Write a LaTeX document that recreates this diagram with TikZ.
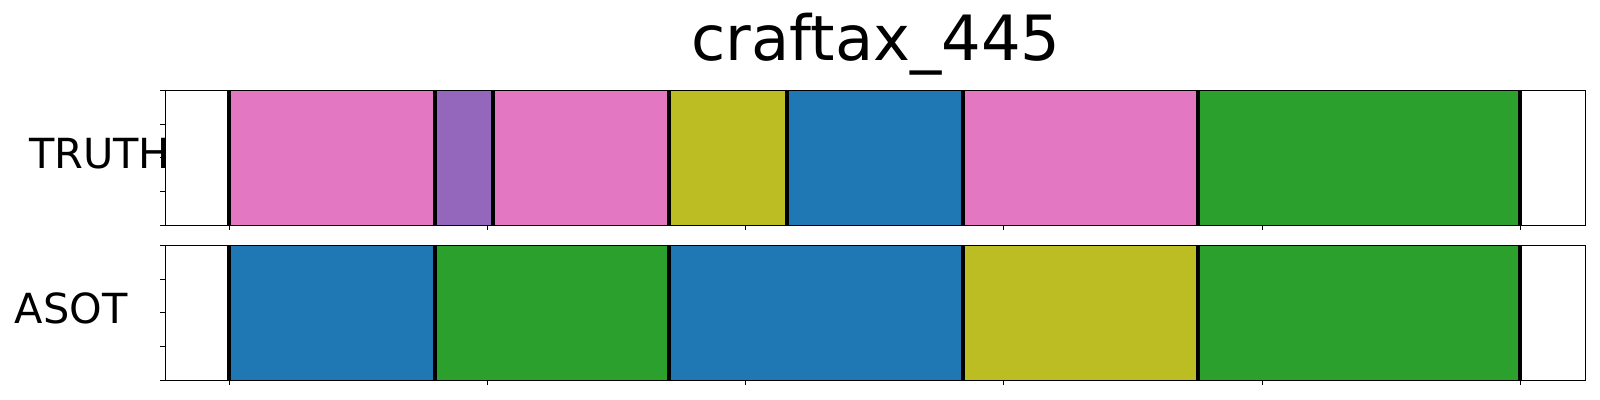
\documentclass[tikz,border=0pt]{standalone}
\usepackage{fontspec}
\setmainfont{DejaVu Sans}
\definecolor{tpink}{HTML}{E377C2}
\definecolor{tpurple}{HTML}{9467BD}
\definecolor{tolive}{HTML}{BCBD22}
\definecolor{tblue}{HTML}{1F77B4}
\definecolor{tgreen}{HTML}{2CA02C}
\tikzset{
  bound/.style={line width=3pt, black},
  frame/.style={line width=0.8pt, black},
  tick/.style={line width=0.8pt, black},
  rowlabel/.style={inner sep=0pt, anchor=base west, font=\fontsize{31.1}{37}\selectfont},
  titlelabel/.style={inner sep=0pt, anchor=base, font=\fontsize{46.8}{56}\selectfont},
}
\begin{document}
\begin{tikzpicture}[x=0.75pt, y=-0.75pt]
\useasboundingbox (0,0) rectangle (1600,400);
% title
\node[titlelabel] (title) at (876,60) {craftax\_445};
% row labels
\node[rowlabel] (truth) at (28.8,168.3) {TRUTH};
\node[rowlabel] (asot) at (14.6,323.3) {ASOT};
% top row segments
\def\ta{90.3}\def\tb{225.3}
\fill[tpink]   (229,\ta) rectangle (434.7,\tb);
\fill[tpurple] (434.7,\ta) rectangle (493,\tb);
\fill[tpink]   (493,\ta) rectangle (669,\tb);
\fill[tolive]  (669,\ta) rectangle (786.8,\tb);
\fill[tblue]   (786.8,\ta) rectangle (963,\tb);
\fill[tpink]   (963,\ta) rectangle (1197.8,\tb);
\fill[tgreen]  (1197.8,\ta) rectangle (1520,\tb);
\foreach \x in {229,434.7,493,669,786.8,963,1197.8,1520}
  \draw[bound] (\x,\ta) -- (\x,\tb);
% bottom row segments
\def\ba{245.3}\def\bb{380.3}
\fill[tblue]   (229,\ba) rectangle (434.7,\bb);
\fill[tgreen]  (434.7,\ba) rectangle (669,\bb);
\fill[tblue]   (669,\ba) rectangle (963,\bb);
\fill[tolive]  (963,\ba) rectangle (1197.8,\bb);
\fill[tgreen]  (1197.8,\ba) rectangle (1520,\bb);
\foreach \x in {229,434.7,669,963,1197.8,1520}
  \draw[bound] (\x,\ba) -- (\x,\bb);
% frames
\draw[frame] (165.3,\ta) rectangle (1585.7,\tb);
\draw[frame] (165.3,\ba) rectangle (1585.7,\bb);
% y ticks
\foreach \k in {0,...,4} {
  \draw[tick] (160.3,{\ta+33.75*\k}) -- (165.3,{\ta+33.75*\k});
  \draw[tick] (160.3,{\ba+33.75*\k}) -- (165.3,{\ba+33.75*\k});
}
% x ticks
\foreach \k in {0,...,5} {
  \draw[tick] ({229.3+258.2*\k},\tb) -- ({229.3+258.2*\k},\tb+5);
  \draw[tick] ({229.3+258.2*\k},\bb) -- ({229.3+258.2*\k},\bb+5);
}
\end{tikzpicture}
\end{document}
